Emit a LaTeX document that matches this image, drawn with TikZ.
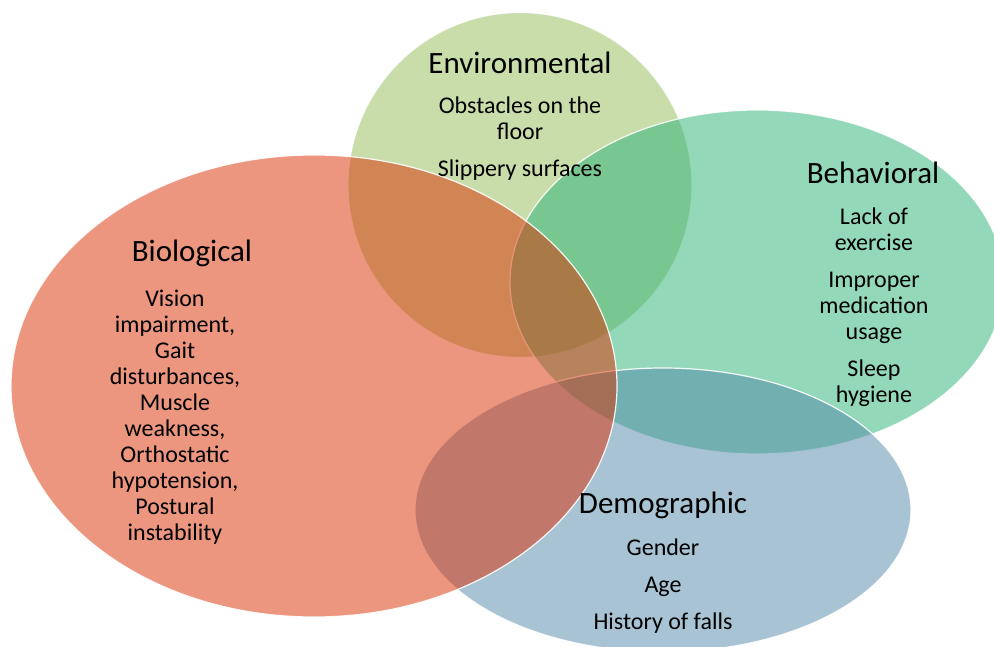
\documentclass[tikz,border=0pt]{standalone}
\usepackage{fontspec}
\setmainfont{Carlito}
\usetikzlibrary{shapes.geometric}
\definecolor{envcol}{RGB}{147,187,87}
\definecolor{behcol}{RGB}{41,177,117}
\definecolor{demcol}{RGB}{81,135,169}
\definecolor{biocol}{RGB}{218,46,0}

\begin{document}
\begin{tikzpicture}[x = 1pt, y = -1pt]
\tikzstyle{SetStyle}=[shape = ellipse,
                      inner sep = 0pt,
                      draw = white, line width = 1.2pt,
                      fill opacity = 0.5, draw opacity = 0.9]
\tikzstyle{HeadStyle}=[font = \fontsize{31}{35}\selectfont]
\tikzstyle{ItemStyle}=[align = center, font = \fontsize{24}{26}\selectfont]
\clip (0,0) rectangle (994,647);
% the four sets
\node[SetStyle, fill = envcol, minimum width = 344pt, minimum height = 345pt] (env) at (520,185) {};
\node[SetStyle, fill = behcol, minimum width = 494pt, minimum height = 344pt] (beh) at (757,282) {};
\node[SetStyle, fill = demcol, minimum width = 496pt, minimum height = 284pt] (dem) at (663,510) {};
\node[SetStyle, fill = biocol, minimum width = 606pt, minimum height = 462pt] (bio) at (314,386) {};
% labels
\node[HeadStyle] (envhead) at (520,63) {Environmental};
\node[ItemStyle] (envtext) at (520,139) {Obstacles on the\\floor\\[11pt]Slippery surfaces};
\node[HeadStyle] (behhead) at (873,173) {Behavioral};
\node[ItemStyle] (behtext) at (874,307) {Lack of\\exercise\\[11pt]Improper\\medication\\usage\\[11pt]Sleep\\hygiene};
\node[HeadStyle] (biohead) at (192,253) {Biological};
\node[ItemStyle] (biotext) at (175,417) {Vision\\impairment,\\Gait\\disturbances,\\Muscle\\weakness,\\Orthostatic\\hypotension,\\Postural\\instability};
\node[HeadStyle] (demhead) at (663,505) {Demographic};
\node[ItemStyle] (demtext) at (663,586) {Gender\\[11pt]Age\\[11pt]History of falls};
\end{tikzpicture}
\end{document}
